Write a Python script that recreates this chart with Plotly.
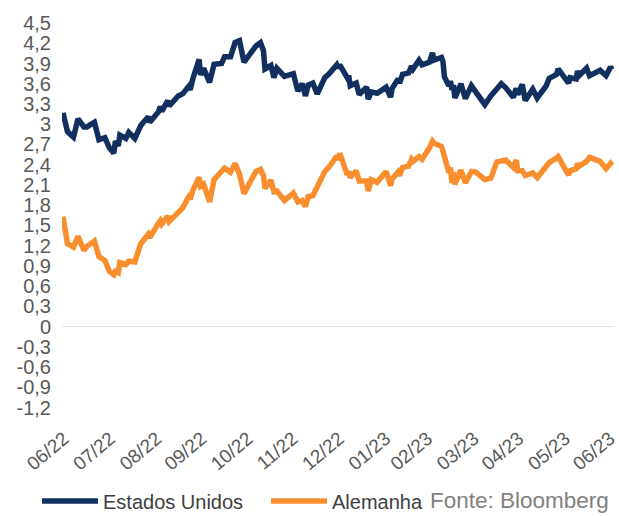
import plotly.graph_objects as go

# ---- data ----
dates = [
    "2022-06-28", "2022-06-29", "2022-07-01", "2022-07-05", "2022-07-08", "2022-07-12",
    "2022-07-14", "2022-07-19", "2022-07-22", "2022-07-26", "2022-07-29", "2022-08-01",
    "2022-08-02", "2022-08-04", "2022-08-05", "2022-08-09", "2022-08-11", "2022-08-15",
    "2022-08-19", "2022-08-24", "2022-08-25", "2022-08-31", "2022-09-01", "2022-09-02",
    "2022-09-06", "2022-09-07", "2022-09-13", "2022-09-16", "2022-09-20", "2022-09-21",
    "2022-09-23", "2022-09-27", "2022-09-28", "2022-09-30", "2022-10-04", "2022-10-07",
    "2022-10-12", "2022-10-14", "2022-10-18", "2022-10-21", "2022-10-24", "2022-10-27",
    "2022-10-31", "2022-11-04", "2022-11-07", "2022-11-09", "2022-11-10", "2022-11-14",
    "2022-11-16", "2022-11-18", "2022-11-23", "2022-11-29", "2022-12-02", "2022-12-05",
    "2022-12-07", "2022-12-09", "2022-12-12", "2022-12-15", "2022-12-20", "2022-12-23",
    "2022-12-28", "2022-12-29", "2022-12-30", "2023-01-04", "2023-01-05", "2023-01-06",
    "2023-01-10", "2023-01-12", "2023-01-17", "2023-01-18", "2023-01-20", "2023-01-24",
    "2023-01-30", "2023-02-02", "2023-02-03", "2023-02-07", "2023-02-08", "2023-02-10",
    "2023-02-14", "2023-02-16", "2023-02-17", "2023-02-21", "2023-02-23", "2023-02-28",
    "2023-03-02", "2023-03-03", "2023-03-08", "2023-03-09", "2023-03-10", "2023-03-13",
    "2023-03-14", "2023-03-15", "2023-03-16", "2023-03-17", "2023-03-21", "2023-03-24",
    "2023-03-28", "2023-03-31", "2023-04-06", "2023-04-10", "2023-04-14", "2023-04-17",
    "2023-04-20", "2023-04-25", "2023-04-27", "2023-04-28", "2023-05-01", "2023-05-03",
    "2023-05-08", "2023-05-11", "2023-05-17", "2023-05-19", "2023-05-24", "2023-05-25",
    "2023-05-31", "2023-06-01", "2023-06-02", "2023-06-06", "2023-06-07", "2023-06-08",
    "2023-06-13", "2023-06-15", "2023-06-22", "2023-06-26", "2023-06-29", "2023-06-30",
]

estados_unidos = [
    3.17, 3.09, 2.89, 2.81, 3.08, 2.96,
    2.96, 3.03, 2.77, 2.80, 2.65, 2.57,
    2.75, 2.68, 2.84, 2.79, 2.88, 2.79,
    2.98, 3.11, 3.03, 3.19, 3.26, 3.19,
    3.35, 3.27, 3.42, 3.45, 3.56, 3.51,
    3.69, 3.96, 3.73, 3.83, 3.62, 3.89,
    3.90, 4.00, 4.00, 4.21, 4.24, 3.92,
    4.05, 4.16, 4.21, 4.09, 3.82, 3.87,
    3.69, 3.83, 3.71, 3.75, 3.49, 3.60,
    3.42, 3.58, 3.61, 3.45, 3.69, 3.75,
    3.88, 3.83, 3.88, 3.69, 3.72, 3.57,
    3.61, 3.44, 3.55, 3.37, 3.48, 3.46,
    3.55, 3.40, 3.53, 3.67, 3.61, 3.74,
    3.76, 3.86, 3.82, 3.95, 3.88, 3.92,
    4.06, 3.95, 3.99, 3.93, 3.70, 3.57,
    3.64, 3.51, 3.58, 3.39, 3.60, 3.38,
    3.57, 3.47, 3.29, 3.42, 3.51, 3.60,
    3.54, 3.40, 3.53, 3.44, 3.59, 3.35,
    3.52, 3.39, 3.57, 3.68, 3.74, 3.82,
    3.64, 3.61, 3.69, 3.67, 3.79, 3.72,
    3.83, 3.72, 3.80, 3.72, 3.85, 3.81,
]

alemanha = [
    1.63, 1.50, 1.23, 1.18, 1.34, 1.13,
    1.19, 1.27, 1.04, 0.98, 0.82, 0.77,
    0.82, 0.80, 0.95, 0.92, 0.97, 0.96,
    1.23, 1.37, 1.32, 1.54, 1.57, 1.52,
    1.64, 1.56, 1.71, 1.76, 1.92, 1.89,
    2.03, 2.21, 2.08, 2.11, 1.85, 2.18,
    2.30, 2.35, 2.29, 2.42, 2.26, 1.97,
    2.14, 2.30, 2.33, 2.24, 2.05, 2.17,
    2.00, 2.01, 1.87, 1.98, 1.85, 1.87,
    1.78, 1.93, 1.94, 2.08, 2.30, 2.37,
    2.53, 2.47, 2.57, 2.25, 2.30, 2.21,
    2.31, 2.16, 2.16, 2.01, 2.18, 2.14,
    2.30, 2.09, 2.19, 2.29, 2.24, 2.36,
    2.38, 2.48, 2.45, 2.52, 2.48, 2.65,
    2.75, 2.72, 2.67, 2.60, 2.50, 2.28,
    2.36, 2.13, 2.29, 2.11, 2.32, 2.13,
    2.30, 2.29, 2.18, 2.20, 2.44, 2.46,
    2.47, 2.36, 2.47, 2.31, 2.31, 2.24,
    2.28, 2.21, 2.37, 2.43, 2.50, 2.52,
    2.28, 2.25, 2.31, 2.34, 2.42, 2.38,
    2.45, 2.51, 2.45, 2.34, 2.42, 2.39,
]

tick_dates = [
    "2022-06-30", "2022-07-31", "2022-08-31", "2022-09-30", "2022-10-31",
    "2022-11-30", "2022-12-31", "2023-01-31", "2023-02-28", "2023-03-31",
    "2023-04-30", "2023-05-31", "2023-06-30",
]
tick_labels = [
    "06/22", "07/22", "08/22", "09/22", "10/22", "11/22", "12/22",
    "01/23", "02/23", "03/23", "04/23", "05/23", "06/23",
]
y_ticks = [4.5, 4.2, 3.9, 3.6, 3.3, 3.0, 2.7, 2.4, 2.1, 1.8, 1.5, 1.2,
           0.9, 0.6, 0.3, 0.0, -0.3, -0.6, -0.9, -1.2]
y_labels = ["4,5", "4,2", "3,9", "3,6", "3,3", "3", "2,7", "2,4", "2,1", "1,8",
            "1,5", "1,2", "0,9", "0,6", "0,3", "0", "-0,3", "-0,6", "-0,9", "-1,2"]

series_names = ["Estados Unidos", "Alemanha"]
series_colors = ["#11305f", "#f98e2e"]
source_text = "Fonte: Bloomberg"

FONT = "Liberation Sans"

fig = go.Figure()
for name, vals, col in zip(series_names, [estados_unidos, alemanha], series_colors):
    fig.add_trace(go.Scatter(
        x=dates, y=vals, mode="lines", name=name,
        line=dict(color=col, width=5.5),
    ))

fig.update_layout(
    width=619, height=516,
    paper_bgcolor="white", plot_bgcolor="white",
    margin=dict(l=62, r=5, t=21, b=107, autoexpand=False),
    xaxis=dict(
        type="date",
        range=["2022-06-27 08:00", "2023-07-01 08:00"],
        tickmode="array", tickvals=tick_dates, ticktext=tick_labels,
        tickangle=-40, showgrid=False, zeroline=False, showline=False, ticks="",
        tickfont=dict(family=FONT, size=19, color="#595959"),
        ticklabelstandoff=14, ticklabelshift=-2,
        ticklabeloverflow="allow",
    ),
    yaxis=dict(
        range=[-1.22, 4.53],
        tickmode="array", tickvals=y_ticks, ticktext=y_labels,
        showgrid=False, showline=False, ticks="",
        zeroline=True, zerolinecolor="#e4e4e4", zerolinewidth=1,
        tickfont=dict(family=FONT, size=20, color="#595959"),
        ticklabelstandoff=10,
    ),
    showlegend=True,
    legend=dict(
        orientation="h", x=-0.0453, xanchor="left", y=-0.237, yanchor="middle",
        font=dict(family=FONT, size=20, color="#404040"),
        itemwidth=56, entrywidth=158, entrywidthmode="pixels",
        bgcolor="rgba(0,0,0,0)",
    ),
    annotations=[dict(
        text=source_text, xref="paper", yref="paper",
        x=0.6630, y=-0.237, xanchor="left", yanchor="middle",
        showarrow=False,
        font=dict(family=FONT, size=22.5, color="#808080"),
    )],
)

fig.write_html(
    "out.html",
    config={"displayModeBar": False},
    post_script="document.body.style.margin='0px';",
)
